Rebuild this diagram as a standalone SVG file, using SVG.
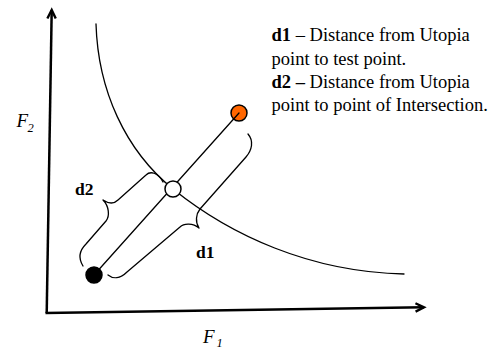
<svg xmlns="http://www.w3.org/2000/svg" width="501" height="350" viewBox="0 0 501 350">
<style>
.axis{fill:none;stroke:#000;stroke-width:2.5;stroke-linecap:butt}
.thin{fill:none;stroke:#000;stroke-width:1.3;stroke-linecap:round;stroke-linejoin:round}
.pt{stroke:#000;stroke-width:1.5}
text{font-family:"Liberation Serif","Times New Roman",serif;fill:#000}
.lab{font-size:17.5px;font-weight:bold}
.leg{font-size:18.5px}
.ax{font-size:19px;font-style:italic}
.sub{font-size:12.5px;font-style:italic}
</style>
<defs>
<marker id="arr" markerUnits="userSpaceOnUse" markerWidth="14" markerHeight="12" refX="10" refY="6" orient="auto">
<path d="M1.5,1.8 L10,6 L1.5,10.2" fill="none" stroke="#000" stroke-width="2.4"/>
</marker>
</defs>
<g id="axes">
<path class="axis" d="M46.7,313 L51.7,10" marker-end="url(#arr)"/>
<path class="axis" d="M45.5,313 L424,307.3" marker-end="url(#arr)"/>
<text class="ax" x="16.5" y="127">F<tspan class="sub" x="27.5" y="132">2</tspan></text>
<text class="ax" x="203" y="343">F<tspan class="sub" x="216.5" y="347">1</tspan></text>
</g>
<g id="pareto-curve">
<path class="thin" d="M96,24 C98,90 125,150 173,189 C230,235 310,272 404,274"/>
</g>
<g id="test-point">
<circle class="pt" cx="239" cy="113" r="8" fill="#ff6600"/>
</g>
<g id="connectors">
<path class="thin" d="M94,275 L239,113"/>
<path id="brace-d2" class="thin" d="M83,266 C78,258 80,250 86,244 L106,221 C110,216 109,206 103,200 C109,204 114,204 118,200 L146,175 C150,171 158,172 163,182"/>
<path id="brace-d1" class="thin" d="M108,275 C113,279 120,279 127,272 L180,227 C184,223 193,223 199,228 C195,222 196,214 200,209 L246,157 C252,150 254,141 248,134"/>
</g>
<g id="intersection-point">
<circle class="pt" cx="173" cy="189" r="8" fill="#fff"/>
</g>
<g id="utopia-point">
<circle class="pt" cx="94" cy="275" r="8" fill="#000"/>
</g>
<g id="labels">
<text class="lab" x="75" y="195">d2</text>
<text class="lab" x="196" y="258">d1</text>
</g>
<g id="legend">
<text class="leg" x="271.5" y="41"><tspan font-weight="bold">d1</tspan> – Distance from Utopia</text>
<text class="leg" x="271.5" y="64.5">point to test point.</text>
<text class="leg" x="271.5" y="88"><tspan font-weight="bold">d2 –</tspan> Distance from Utopia</text>
<text class="leg" x="271.5" y="111">point to point of Intersection.</text>
</g>
</svg>
